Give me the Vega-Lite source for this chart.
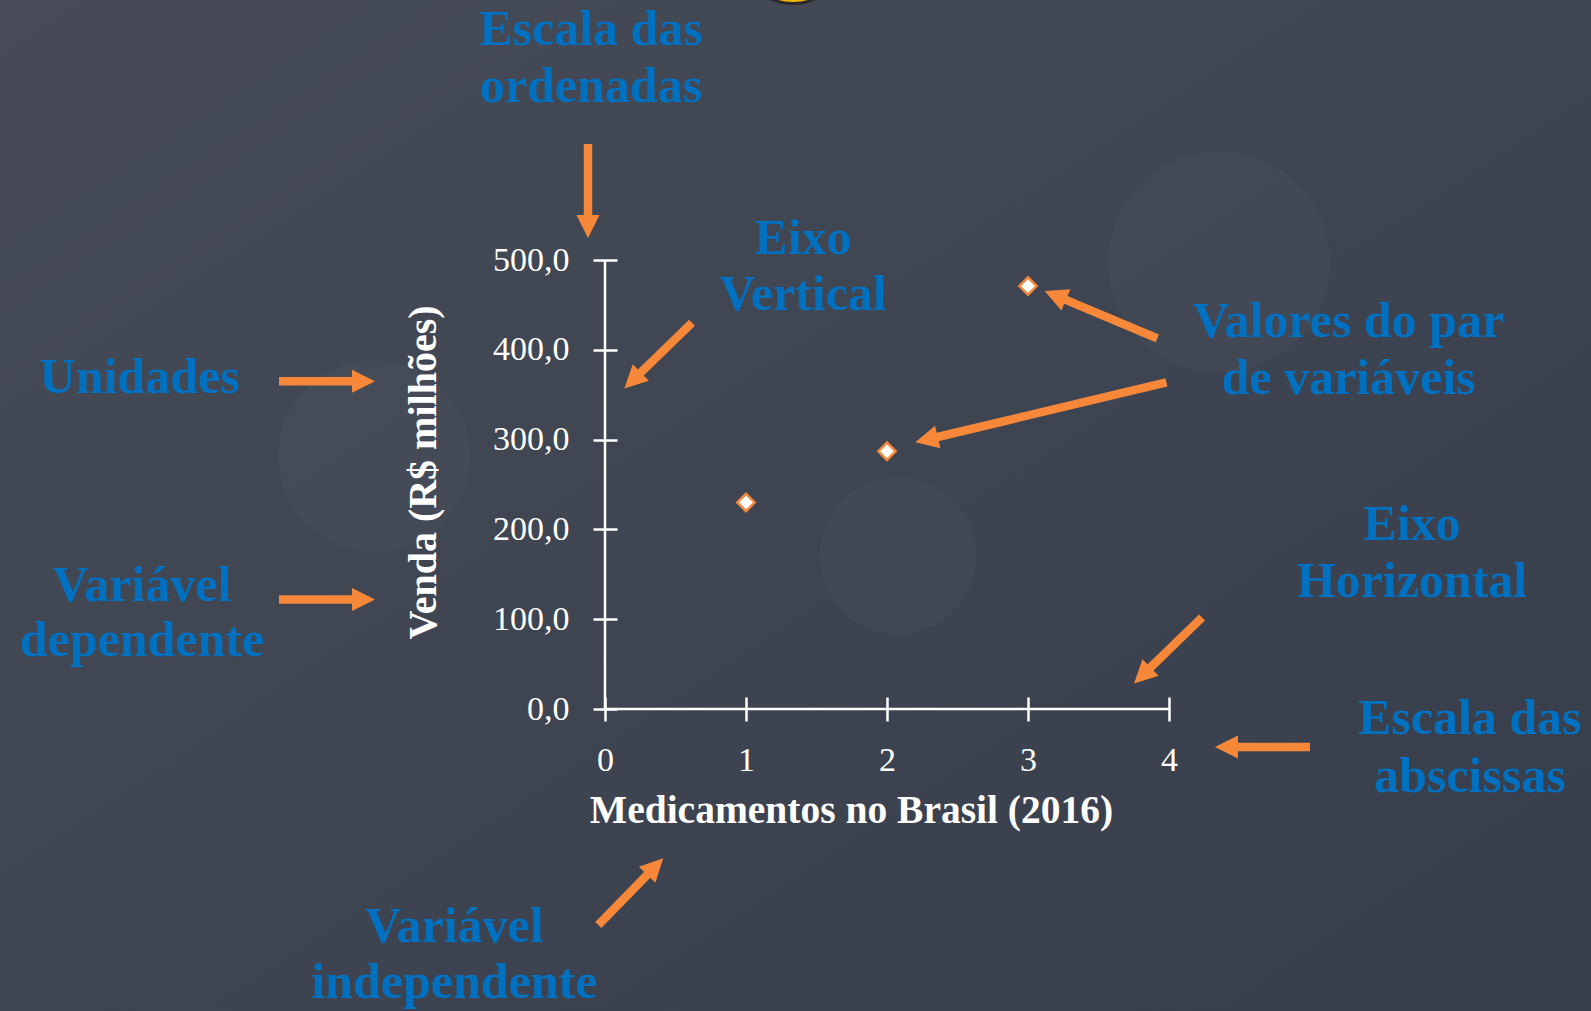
{
  "$schema": "https://vega.github.io/schema/vega-lite/v6.json",
  "width": 564,
  "height": 449,
  "autosize": {"type": "none"},
  "padding": {"left": 605, "top": 260, "right": 422, "bottom": 302},
  "background": "#3e4451",
  "config": {"view": {"stroke": null}},
  "datasets": {
    "pontos": [
      {"x": 1, "y": 230},
      {"x": 2, "y": 287},
      {"x": 3, "y": 471}
    ],
    "fundo": [{"x": -5, "x2": 7.5, "y": -400, "y2": 900}],
    "eixos": [
      {"x": 0, "x2": 4, "y": 0, "y2": 0},
      {"x": 0, "x2": 0, "y": 0, "y2": 500}
    ],
    "bolhaA": [{"x": 4.355, "y": 497.8}],
    "bolhaB": [{"x": -1.638, "y": 281.7}],
    "bolhaC": [{"x": 2.078, "y": 170.4}],
    "sol": [{"x": 1.333, "y": 845.2}],
    "setas": [
      {"id": "a", "x": -0.1206, "y": 629.2, "tx": -0.1206, "ty": 524.5},
      {"id": "b", "x": 0.617, "y": 430.2, "tx": 0.137, "ty": 356.8},
      {"id": "c", "x": -2.312, "y": 365.0, "tx": -1.631, "ty": 365.0},
      {"id": "d", "x": -2.312, "y": 121.9, "tx": -1.631, "ty": 121.9},
      {"id": "e", "x": 3.917, "y": 412.8, "tx": 3.118, "ty": 465.5},
      {"id": "f", "x": 3.982, "y": 363.8, "tx": 2.201, "ty": 297.0},
      {"id": "g", "x": 4.234, "y": 101.9, "tx": 3.752, "ty": 28.4},
      {"id": "h", "x": 5.0, "y": -42.3, "tx": 4.326, "ty": -42.3},
      {"id": "i", "x": -0.0475, "y": -240.5, "tx": 0.413, "ty": -166.3}
    ],
    "textos": [
      {"t": "Escala das", "x": -0.0993, "y": 739.9},
      {"t": "ordenadas", "x": -0.0993, "y": 675.4},
      {"t": "Eixo", "x": 1.404, "y": 507.2},
      {"t": "Vertical", "x": 1.404, "y": 443.8},
      {"t": "Unidades", "x": -3.301, "y": 352.4},
      {"t": "Variável", "x": -3.284, "y": 120.8},
      {"t": "dependente", "x": -3.284, "y": 58.5},
      {"t": "Valores do par", "x": 5.273, "y": 414.8},
      {"t": "de variáveis", "x": 5.273, "y": 350.8},
      {"t": "Eixo", "x": 5.723, "y": 188.2},
      {"t": "Horizontal", "x": 5.723, "y": 124.7},
      {"t": "Escala das", "x": 6.133, "y": -27.8},
      {"t": "abscissas", "x": 6.133, "y": -92.7},
      {"t": "Variável", "x": -1.069, "y": -259.1},
      {"t": "independente", "x": -1.069, "y": -322.3}
    ]
  },
  "encoding": {
    "x": {
      "field": "x",
      "type": "quantitative",
      "scale": {"domain": [0, 4], "nice": false, "zero": false},
      "axis": {
        "values": [0, 1, 2, 3, 4],
        "format": "d",
        "domain": false,
        "grid": false,
        "offset": -12,
        "tickSize": 24,
        "tickWidth": 2.5,
        "tickColor": "#ffffff",
        "labelColor": "#ffffff",
        "labelFont": "Liberation Serif",
        "labelFontSize": 34,
        "labelPadding": 22,
        "labelFlush": false,
        "labelOverlap": false,
        "title": "Medicamentos no Brasil (2016)",
        "titleColor": "#ffffff",
        "titleFont": "Liberation Serif",
        "titleFontSize": 39.5,
        "titleFontWeight": "bold",
        "titleX": 246,
        "titleY": 125,
        "titleAlign": "center",
        "titleBaseline": "alphabetic",
        "zindex": 1
      }
    },
    "y": {
      "field": "y",
      "type": "quantitative",
      "scale": {"domain": [0, 500], "nice": false, "zero": false},
      "axis": {
        "values": [0, 100, 200, 300, 400, 500],
        "labelExpr": "replace(format(datum.value, '.1f'), '.', ',')",
        "domain": false,
        "grid": false,
        "offset": -12,
        "tickSize": 24,
        "tickWidth": 2.5,
        "tickColor": "#ffffff",
        "labelColor": "#ffffff",
        "labelFont": "Liberation Serif",
        "labelFontSize": 34,
        "labelPadding": 24,
        "labelFlush": false,
        "labelOverlap": false,
        "title": "Venda (R$ milhões)",
        "titleColor": "#ffffff",
        "titleFont": "Liberation Serif",
        "titleFontSize": 40,
        "titleFontWeight": "bold",
        "titleAngle": 270,
        "titleX": -182,
        "titleY": 212,
        "titleAlign": "center",
        "titleBaseline": "alphabetic",
        "zindex": 1
      }
    }
  },
  "layer": [
    {
      "data": {"name": "fundo"},
      "mark": {
        "type": "rect",
        "fill": {
          "gradient": "linear",
          "x1": 0, "y1": 0, "x2": 1, "y2": 1,
          "stops": [
            {"offset": 0, "color": "#474c58"},
            {"offset": 1, "color": "#363d4a"}
          ]
        }
      },
      "encoding": {
        "x2": {"field": "x2"},
        "y2": {"field": "y2"}
      }
    },
    {
      "data": {"name": "bolhaA"},
      "mark": {"type": "point", "shape": "circle", "filled": true, "fill": "#ffffff", "opacity": 0.025, "size": 49284}
    },
    {
      "data": {"name": "bolhaB"},
      "mark": {"type": "point", "shape": "circle", "filled": true, "fill": "#ffffff", "opacity": 0.025, "size": 36864}
    },
    {
      "data": {"name": "bolhaC"},
      "mark": {"type": "point", "shape": "circle", "filled": true, "fill": "#ffffff", "opacity": 0.025, "size": 24649}
    },
    {
      "data": {"name": "sol"},
      "mark": {"type": "point", "shape": "circle", "filled": true, "fill": "#f3b705", "stroke": "#2b2b2b", "strokeWidth": 3, "opacity": 1, "size": 11449}
    },
    {
      "data": {"name": "eixos"},
      "mark": {"type": "rule", "color": "#ffffff", "strokeWidth": 2.5},
      "encoding": {
        "x2": {"field": "x2"},
        "y2": {"field": "y2"}
      }
    },
    {
      "data": {"name": "setas"},
      "transform": [
        {"calculate": "atan2(-(datum.ty - datum.y) * 0.898, (datum.tx - datum.x) * 141)", "as": "rad"},
        {"calculate": "datum.tx - cos(datum.rad) * 12 / 141", "as": "ex"},
        {"calculate": "datum.ty + sin(datum.rad) * 12 / 0.898", "as": "ey"}
      ],
      "mark": {"type": "rule", "color": "#f7883a", "strokeWidth": 8.5},
      "encoding": {
        "x2": {"field": "ex"},
        "y2": {"field": "ey"}
      }
    },
    {
      "data": {"name": "setas"},
      "transform": [
        {"calculate": "atan2(-(datum.ty - datum.y) * 0.898, (datum.tx - datum.x) * 141) * 180 / PI", "as": "ang"}
      ],
      "mark": {"type": "point", "shape": "M0,0L-2,-1L-2,1Z", "filled": true, "fill": "#f7883a", "opacity": 1, "size": 529},
      "encoding": {
        "x": {"field": "tx", "type": "quantitative"},
        "y": {"field": "ty", "type": "quantitative"},
        "angle": {"field": "ang", "type": "quantitative", "scale": null}
      }
    },
    {
      "data": {"name": "textos"},
      "mark": {"type": "text", "font": "Liberation Serif", "fontWeight": "bold", "fontSize": 50, "color": "#0070c0", "align": "center", "baseline": "alphabetic"},
      "encoding": {
        "text": {"field": "t", "type": "nominal"}
      }
    },
    {
      "data": {"name": "pontos"},
      "mark": {"type": "point", "shape": "diamond", "filled": true, "fill": "#ffffff", "stroke": "#f7883a", "strokeWidth": 2.5, "opacity": 1, "size": 300}
    }
  ]
}
